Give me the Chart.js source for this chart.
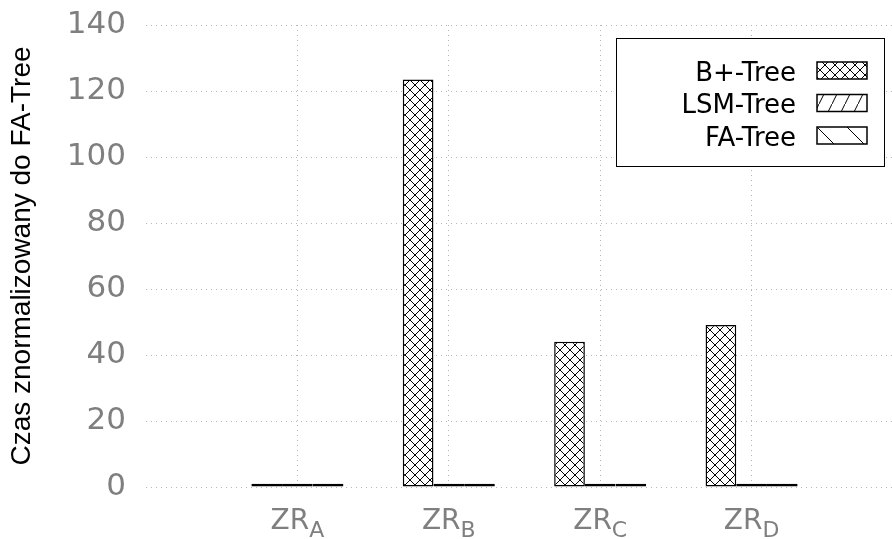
<!DOCTYPE html>
<html>
<head>
<meta charset="utf-8">
<script src="https://cdn.jsdelivr.net/npm/chart.js@4"></script>
<style>
  html, body { margin: 0; padding: 0; overflow: hidden; background: #fff; }
  #wrap { position: absolute; left: 0; top: 0; width: 910px; height: 539px; }
</style>
</head>
<body>
<div id="wrap"><canvas id="myChart"></canvas></div>
<script>
// categories (main text _ subscript)
const categories = ['ZR_A', 'ZR_B', 'ZR_C', 'ZR_D'];
const seriesNames = ['B+-Tree', 'LSM-Tree', 'FA-Tree'];
const bplusValues = [1.0, 123.5, 44.0, 49.1];
const lsmValues = [1.0, 1.0, 1.0, 1.0];
const faValues = [1.0, 1.0, 1.0, 1.0];
const yTicks = [0, 20, 40, 60, 80, 100, 120, 140];

const tickGray = '#7f7f7f';

// hatch patterns like gnuplot fill patterns
function makePattern(w, h, draw) {
  const c = document.createElement('canvas');
  c.width = w; c.height = h;
  const g = c.getContext('2d');
  g.fillStyle = '#fff';
  g.fillRect(0, 0, w, h);
  g.strokeStyle = '#000';
  g.lineWidth = 1;
  draw(g, w, h);
  return document.createElement('canvas').getContext('2d').createPattern(c, 'repeat');
}
const crossPat = makePattern(10, 10, (g, w, h) => {
  g.beginPath();
  g.moveTo(0, 0); g.lineTo(w, h);
  g.moveTo(0, h); g.lineTo(w, 0);
  g.stroke();
});
const slashPat = makePattern(13, 26, (g, w, h) => {
  g.beginPath();
  g.moveTo(-1, h + 2); g.lineTo(w + 1, -2);
  g.stroke();
});
const backPat = makePattern(30, 30, (g, w, h) => {
  g.beginPath();
  g.moveTo(-1, -1); g.lineTo(w + 1, h + 1);
  g.stroke();
});
const patterns = [crossPat, slashPat, backPat];

// pad with an empty slot on each side so the x range runs from -1 to 4
const padded = arr => [null, ...arr, null];

const customDraw = {
  id: 'customDraw',
  afterDraw(chart) {
    const ctx = chart.ctx;
    const xs = chart.scales.x;
    const bottom = chart.chartArea.bottom;
    // x tick labels with subscripts
    ctx.save();
    ctx.fillStyle = tickGray;
    ctx.textBaseline = 'alphabetic';
    ctx.textAlign = 'left';
    categories.forEach((lab, i) => {
      const parts = lab.split('_');
      const cx = xs.getPixelForValue(i + 1);
      ctx.font = '28px "DejaVu Sans"';
      const w1 = ctx.measureText(parts[0]).width;
      ctx.font = '22px "DejaVu Sans"';
      const w2 = ctx.measureText(parts[1]).width;
      const x0 = cx - (w1 + w2) / 2;
      ctx.font = '28px "DejaVu Sans"';
      ctx.fillText(parts[0], x0, bottom + 42);
      ctx.font = '22px "DejaVu Sans"';
      ctx.fillText(parts[1], x0 + w1, bottom + 50);
    });
    ctx.restore();

    // legend box
    ctx.save();
    ctx.fillStyle = '#fff';
    ctx.fillRect(616.5, 38.5, 268, 128);
    ctx.strokeStyle = '#000';
    ctx.lineWidth = 1;
    ctx.strokeRect(616.5, 38.5, 268, 128);
    ctx.font = '26px "DejaVu Sans"';
    ctx.textAlign = 'right';
    ctx.textBaseline = 'alphabetic';
    ctx.fillStyle = '#000';
    chart.data.datasets.forEach((ds, i) => {
      const top = 62 + i * 32.5;
      ctx.fillText(ds.label, 796, top + 18.5);
      ctx.fillStyle = ds.backgroundColor;
      ctx.fillRect(817, top, 50, 17);
      ctx.lineWidth = 1.5;
      ctx.strokeRect(817, top, 50, 17);
      ctx.fillStyle = '#000';
    });
    ctx.restore();
  }
};

const chartData = {
  labels: padded(categories),
  datasets: [
    { label: seriesNames[0], data: padded(bplusValues), backgroundColor: patterns[0] },
    { label: seriesNames[1], data: padded(lsmValues), backgroundColor: patterns[1] },
    { label: seriesNames[2], data: padded(faValues), backgroundColor: patterns[2] },
  ].map(d => Object.assign(d, { borderColor: '#000', borderWidth: 1.5, borderSkipped: false }))
};

const config = {
  type: 'bar',
  data: chartData,
  options: {
    responsive: true,
    maintainAspectRatio: false,
    animation: false,
    categoryPercentage: 0.608,
    barPercentage: 1.0,
    layout: { padding: { top: 25, right: 7, left: 0, bottom: 0 } },
    plugins: { legend: { display: false }, tooltip: { enabled: false } },
    scales: {
      x: {
        offset: false,
        grid: { offset: false, color: '#b5b5b5', lineWidth: 1, drawTicks: false },
        border: { display: false, dash: [1, 4] },
        ticks: { display: false },
        afterFit: s => { s.height = 52; }
      },
      y: {
        min: 0,
        max: 140,
        afterBuildTicks: s => { s.ticks = yTicks.map(v => ({ value: v })); },
        grid: { color: '#b5b5b5', lineWidth: 1, drawTicks: false },
        border: { display: false, dash: [1, 4] },
        ticks: {
          color: tickGray,
          padding: 20,
          font: { family: 'DejaVu Sans', size: 31 }
        },
        title: {
          display: true,
          text: 'Czas znormalizowany do FA-Tree',
          color: '#000',
          font: { family: 'Liberation Sans', size: 28 },
          padding: { top: 5, bottom: 0 }
        },
        afterFit: s => { s.width = 146; s.paddingTop = 0; s.paddingBottom = 0; }
      }
    }
  },
  plugins: [customDraw]
};

const myChart = new Chart(document.getElementById('myChart'), config);
</script>
</body>
</html>
